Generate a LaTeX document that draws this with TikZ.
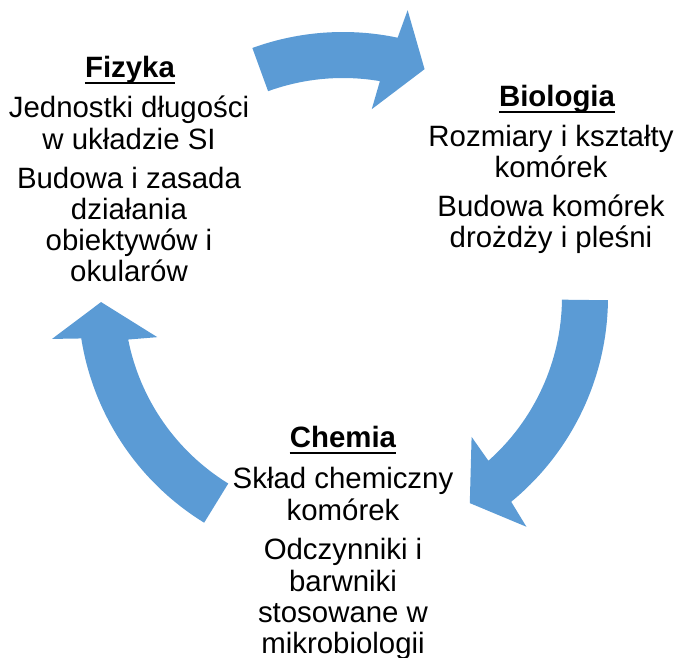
\documentclass[tikz,border=0pt]{standalone}
\usepackage{fontspec}
\setmainfont{Liberation Sans}
\usetikzlibrary{calc}
\definecolor{arrowblue}{RGB}{91,155,213}
\tikzset{
  txt/.style={anchor=base, inner sep=0pt, font=\fontsize{29.4}{32}\selectfont},
  ttl/.style={anchor=base, inner sep=0pt, font=\fontsize{29.4}{32}\selectfont\bfseries},
  uline/.style={line width=2pt, draw=black},
  arrowfill/.style={fill=arrowblue, draw=none}
}
% cycle arrow: #1 tail angle, #2 tip angle (clockwise), centre (343,360)
\newcommand{\cycarrow}[2]{%
  \fill[arrowfill] ([shift={(343,360)}]#1:265)
    arc[start angle=#1, end angle={#2+7.8}, radius=265]
    -- ([shift={(343,360)}]{#2+7}:294)
    -- ([shift={(343,360)}]#2:242)
    -- ([shift={(343,360)}]{#2+11}:190)
    -- ([shift={(343,360)}]{#2+10}:219)
    arc[start angle={#2+10}, end angle=#1, radius=219]
    -- cycle;}
\begin{document}
\begin{tikzpicture}[x=1pt,y=1pt]
\useasboundingbox (0,0) rectangle (680,657);
% arrows
\cycarrow{110}{70.3}
\cycarrow{-0.7}{-58.4}
\cycarrow{238.4}{181.2}
% Fizyka
\node[ttl] (ft) at (130,579) {Fizyka};
\draw[uline] ([yshift=-5.5pt]ft.base west) -- ([yshift=-5.5pt]ft.base east);
\node[txt] (f1) at (129,539) {Jednostki długości};
\node[txt] (f2) at (129,507) {w układzie SI};
\node[txt] (f3) at (129,468) {Budowa i zasada};
\node[txt] (f4) at (129,437) {działania};
\node[txt] (f5) at (129,406) {obiektywów i};
\node[txt] (f6) at (129,375) {okularów};
% Biologia
\node[ttl] (bt) at (557,550) {Biologia};
\draw[uline] ([yshift=-5.5pt]bt.base west) -- ([yshift=-5.5pt]bt.base east);
\node[txt] (b1) at (551,510) {Rozmiary i kształty};
\node[txt] (b2) at (551,479) {komórek};
\node[txt] (b3) at (551,440) {Budowa komórek};
\node[txt] (b4) at (551,409) {drożdży i pleśni};
% Chemia
\node[ttl] (ct) at (343,210) {Chemia};
\draw[uline] ([yshift=-5.5pt]ct.base west) -- ([yshift=-5.5pt]ct.base east);
\node[txt] (c1) at (343,169) {Skład chemiczny};
\node[txt] (c2) at (343,137) {komórek};
\node[txt] (c3) at (343,98) {Odczynniki i};
\node[txt] (c4) at (343,66) {barwniki};
\node[txt] (c5) at (343,35) {stosowane w};
\node[txt] (c6) at (343,4) {mikrobiologii};
\end{tikzpicture}
\end{document}
